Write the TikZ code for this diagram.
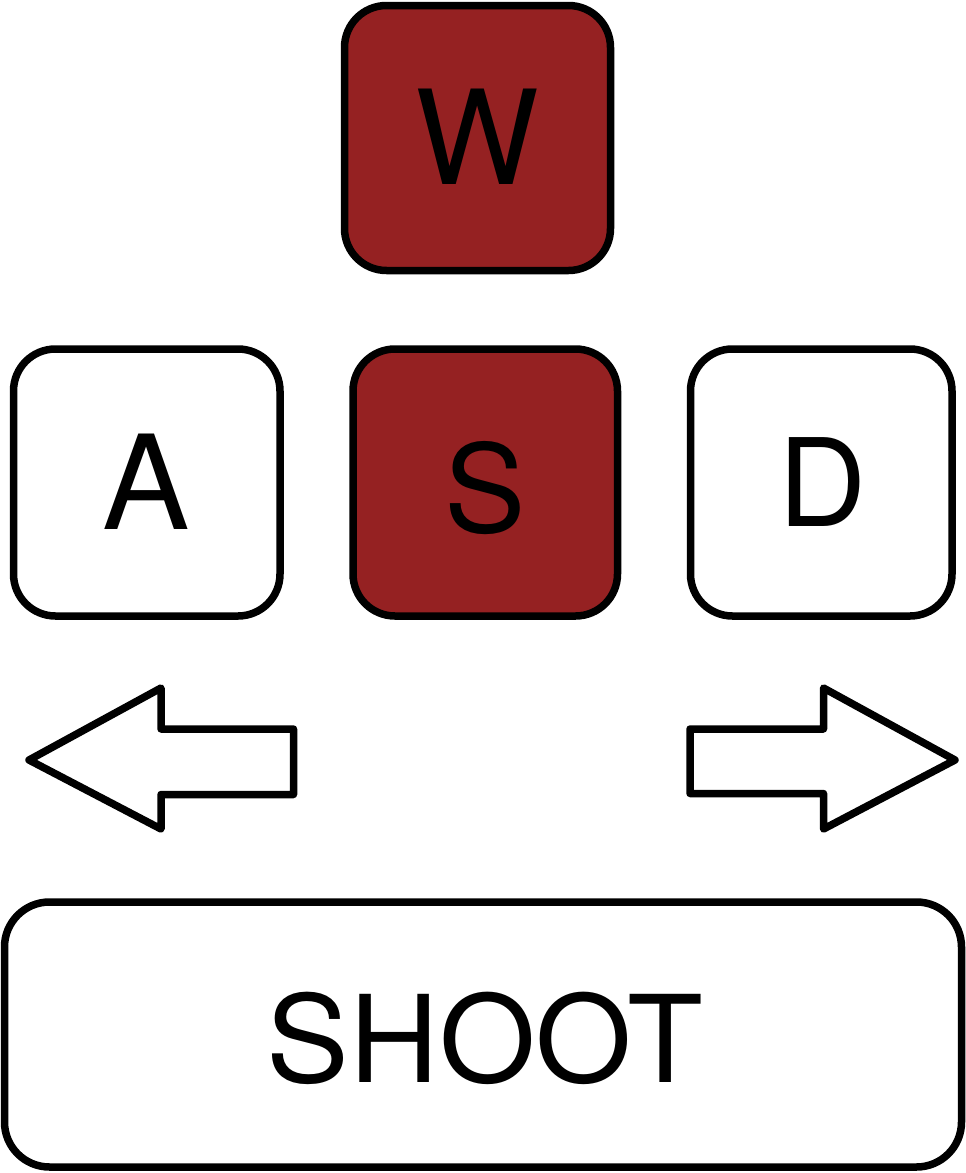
\documentclass[tikz,border=0pt]{standalone}
\usepackage{fontspec}
\setmainfont{TeX Gyre Heros}
\definecolor{keyred}{RGB}{149,33,34}
\tikzset{
  keybox/.style={draw=black, line width=7.5pt, rectangle, rounded corners=42pt, inner sep=0pt, fill=white},
  redkey/.style={keybox, fill=keyred},
  keylabel/.style={inner sep=0pt, anchor=base, text=black},
  arrowshape/.style={draw=black, line width=7.5pt, line join=round, fill=white}
}
\begin{document}
\begin{tikzpicture}[x=1pt, y=-1pt]
\useasboundingbox (0,0) rectangle (966,1173);
% keys
\node[redkey, minimum width=266pt, minimum height=265pt] (w) at (477.5,138) {};
\node[keybox, minimum width=266.5pt, minimum height=267pt] (a) at (146.75,482.5) {};
\node[redkey, minimum width=264.5pt, minimum height=267pt] (s) at (485.25,482.5) {};
\node[keybox, minimum width=261.5pt, minimum height=267pt] (d) at (821.25,482.5) {};
\node[keybox, rounded corners=45pt, minimum width=957pt, minimum height=265pt] (shoot) at (483,1034.5) {};
% labels
\node[keylabel, font=\fontsize{131}{131}\selectfont] (wl) at (477.5,184) {W};
\node[keylabel, font=\fontsize{131}{131}\selectfont] (al) at (146.5,529) {A};
\node[keylabel, font=\fontsize{122}{122}\selectfont] (sl) at (485,532.5) {S};
\node[keylabel, font=\fontsize{122}{122}\selectfont] (dl) at (822.5,526) {D};
\node[keylabel, font=\fontsize{121}{121}\selectfont, xscale=1.025, transform shape] (shootl) at (485,1082) {SHOOT};
% arrows
\draw[arrowshape] (29,760) -- (161,688) -- (161,729) -- (293.5,729) -- (293.5,794.5) -- (161,794.5) -- (161,829) -- cycle;
\draw[arrowshape] (955,760) -- (823.5,688) -- (823.5,729) -- (690,729) -- (690,793.5) -- (823.5,793.5) -- (823.5,829) -- cycle;
\end{tikzpicture}
\end{document}
